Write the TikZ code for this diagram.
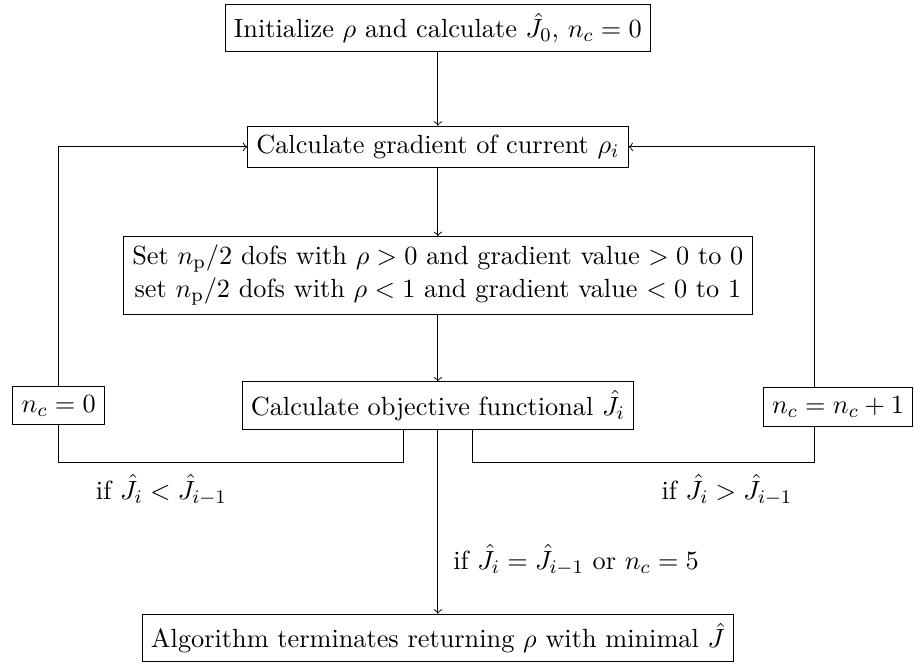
\documentclass[tikz,border=0pt,11pt]{standalone}
\usepackage{amsmath}
\usetikzlibrary{positioning}
\begin{document}
\begin{tikzpicture}[
    box/.style={rectangle, draw, align=center},
    arr/.style={->}
  ]
    \useasboundingbox (0,0) rectangle (13.38,-9.72);

    %% main column
    \node[box] (init) at (6.41,-0.41) {Initialize $\rho$ and calculate $\hat{J}_0$, $n_c=0$};
    \node[box] (grad) at (6.41,-2.15) {Calculate gradient of current $\rho_i$};
    \node[box] (setb) at (6.41,-4.03)
      {Set $n_{\mathrm{p}}/2$ dofs with $\rho>0$ and gradient value $>0$ to $0$\\
       set $n_{\mathrm{p}}/2$ dofs with $\rho<1$ and gradient value $<0$ to $1$};
    \node[box] (obj) at (6.41,-5.94) {Calculate objective functional $\hat{J}_i$};
    \node[box] (term) at (6.41,-9.34) {Algorithm terminates returning $\rho$ with minimal $\hat{J}$};

    %% counter boxes
    \node[box] (nczero) at (0.86,-5.94) {$n_c=0$};
    \node[box, anchor=east] (ncinc) at (13.37,-5.96) {$n_c=n_c+1$};
    \coordinate (rup) at (11.92,0);

    %% labels
    \node[anchor=west] (lless) at (1.27,-7.17) {if $\hat{J}_i<\hat{J}_{i-1}$};
    \node[anchor=west] (lmore) at (9.55,-7.17) {if $\hat{J}_i>\hat{J}_{i-1}$};
    \node[anchor=west] (lstop) at (6.50,-8.20) {if $\hat{J}_i=\hat{J}_{i-1}$ or $n_c=5$};

    %% Arrows
    \draw[arr] (init.south) -- (grad.north);
    \draw[arr] (grad.south) -- (setb.north);
    \draw[arr] (setb.south) -- (obj.north);
    \draw[arr] (obj.south) -- (term.north);
    \draw ([xshift=-0.5cm]obj.south) -- ++(0,-0.48) -| (nczero.south);
    \draw[arr] (nczero.north) |- (grad.west);
    \draw ([xshift=0.5cm]obj.south) -- ++(0,-0.48) -| (ncinc.south -| rup);
    \draw[arr] (ncinc.north -| rup) |- (grad.east);
  \end{tikzpicture}
\end{document}
